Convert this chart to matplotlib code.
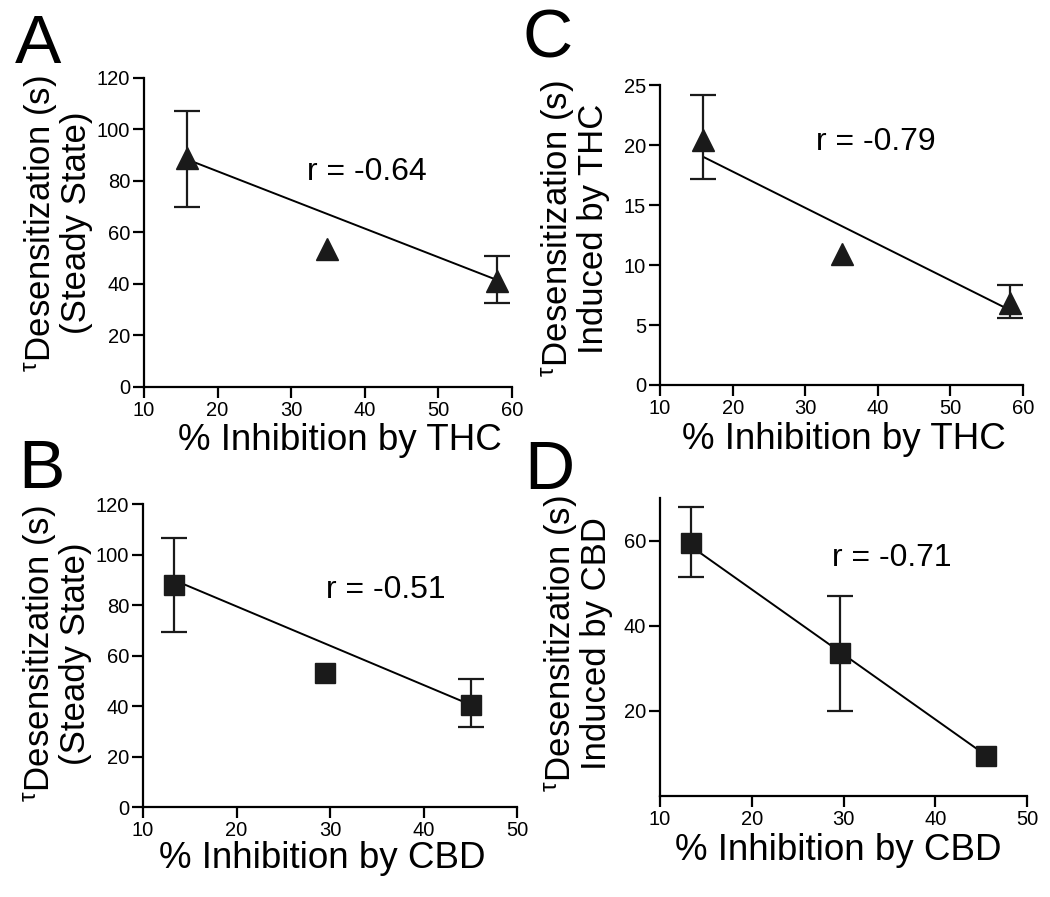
import matplotlib
matplotlib.use("Agg")
import matplotlib.pyplot as plt
import numpy as np

plt.rcParams['font.family'] = ['Liberation Sans', 'DejaVu Sans']
plt.rcParams['mathtext.fontset'] = 'custom'
plt.rcParams['mathtext.rm'] = 'Liberation Sans'
plt.rcParams['mathtext.it'] = 'Liberation Sans'

# Panel A: THC vs steady state
A_x = [15.8, 34.9, 58.0]
A_y = [89.0, 53.6, 41.0]
A_lo = [69.9, np.nan, 32.6]
A_hi = [107.2, np.nan, 50.9]
A_fit_x = [16.0, 58.0]
A_fit_y = [88.2, 41.5]

# Panel B: CBD vs steady state
B_x = [13.3, 29.5, 45.1]
B_y = [88.0, 53.0, 40.4]
B_lo = [69.3, np.nan, 31.7]
B_hi = [106.5, np.nan, 50.7]
B_fit_x = [13.3, 45.1]
B_fit_y = [89.9, 40.4]

# Panel C: THC vs induced by THC
C_x = [15.9, 35.1, 58.2]
C_y = [20.4, 10.9, 6.8]
C_lo = [17.2, np.nan, 5.6]
C_hi = [24.2, np.nan, 8.3]
C_fit_x = [16.0, 58.0]
C_fit_y = [19.0, 6.3]

# Panel D: CBD vs induced by CBD
D_x = [13.4, 29.6, 45.5]
D_y = [59.5, 33.6, 9.4]
D_lo = [51.5, 20.0, np.nan]
D_hi = [67.8, 47.0, np.nan]
D_fit_x = [13.4, 45.5]
D_fit_y = [58.6, 9.6]

fig = plt.figure(figsize=(10.5, 8.97), dpi=100)

panels = [
    # letter, rect, data, marker, ms, xlim, xticks, ylim, yticks, ylabel, xlabel, r text, r pos, ylabel pos, xlabel pos, letter pos
    ("A", [0.1371, 0.5686, 0.3505, 0.3445], (A_x, A_y, A_lo, A_hi, A_fit_x, A_fit_y), "^", 16,
     (10, 60), range(10, 61, 10), (0, 120), range(0, 121, 20),
     "$^{\\tau}$Desensitization (s)\n(Steady State)", "% Inhibition by THC",
     "r = -0.64", (0.606, 0.696), (-0.139, 0.53), (0.533, -0.115), (15, 63)),
    ("C", [0.6286, 0.5708, 0.3457, 0.3344], (C_x, C_y, C_lo, C_hi, C_fit_x, C_fit_y), "^", 16,
     (10, 60), range(10, 61, 10), (0, 25), range(0, 26, 5),
     "$^{\\tau}$Desensitization (s)\nInduced by THC", "% Inhibition by THC",
     "r = -0.79", (0.595, 0.81), (-0.138, 0.52), (0.507, -0.125), (523, 57)),
    ("B", [0.1362, 0.1003, 0.3562, 0.3378], (B_x, B_y, B_lo, B_hi, B_fit_x, B_fit_y), "s", 14.5,
     (10, 50), range(10, 51, 10), (0, 120), range(0, 121, 20),
     "$^{\\tau}$Desensitization (s)\n(Steady State)", "% Inhibition by CBD",
     "r = -0.51", (0.65, 0.716), (-0.136, 0.505), (0.479, -0.112), (18, 488)),
    ("D", [0.6286, 0.1126, 0.3495, 0.3322], (D_x, D_y, D_lo, D_hi, D_fit_x, D_fit_y), "s", 14.5,
     (10, 50), range(10, 51, 10), (0, 70), range(20, 61, 20),
     "$^{\\tau}$Desensitization (s)\nInduced by CBD", "% Inhibition by CBD",
     "r = -0.71", (0.632, 0.80), (-0.128, 0.51), (0.485, -0.125), (524, 489)),
]

for (letter, rect, data, marker, ms, xlim, xticks, ylim, yticks, ylabel, xlabel,
     rtext, rpos, ylpos, xlpos, lpos) in panels:
    x, y, lo, hi, fx, fy = data
    x = np.array(x); y = np.array(y); lo = np.array(lo); hi = np.array(hi)
    ax = fig.add_axes(rect)
    ax.plot(fx, fy, color="black", lw=1.4, zorder=2)
    has_err = ~np.isnan(lo)
    ax.errorbar(x[has_err], y[has_err], yerr=[y[has_err] - lo[has_err], hi[has_err] - y[has_err]],
                fmt="none", ecolor="#1a1a1a", elinewidth=1.6, capsize=9.5, capthick=1.6, zorder=3)
    ax.plot(x, y, linestyle="none", marker=marker, ms=ms, color="#1a1a1a", zorder=4)
    ax.set_xlim(*xlim)
    ax.set_ylim(*ylim)
    ax.set_xticks(list(xticks))
    ax.set_yticks(list(yticks))
    for s in ["top", "right"]:
        ax.spines[s].set_visible(False)
    for s in ["left", "bottom"]:
        ax.spines[s].set_linewidth(1.6)
    ax.tick_params(width=1.6, length=8, labelsize=14.5, pad=2)
    ax.set_ylabel(ylabel, fontsize=25, linespacing=1.0)
    ax.yaxis.set_label_coords(*ylpos)
    ax.set_xlabel(xlabel, fontsize=26.5)
    ax.xaxis.set_label_coords(*xlpos)
    ax.xaxis.label.set_va("top")
    ax.text(rpos[0], rpos[1], rtext, transform=ax.transAxes, fontsize=23,
            ha="center", va="center")
    fig.text(lpos[0] / 1050, 1 - lpos[1] / 897, letter, fontsize=50, va="baseline", ha="left")

fig.savefig("out.png", dpi=100)
